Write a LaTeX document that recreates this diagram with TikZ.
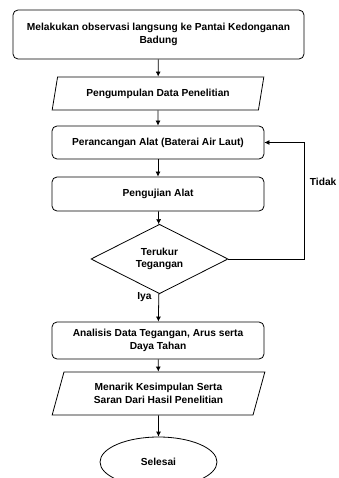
\documentclass[tikz,border=0pt]{standalone}
\usepackage{fontspec}
\setmainfont{Liberation Sans}
\usetikzlibrary{shapes.geometric,arrows.meta}
\begin{document}
\begin{tikzpicture}[x=1pt, y=-1pt, line width=0.8pt,
	font=\fontsize{10.2}{12.5}\selectfont\bfseries,
	proses/.style={draw, rounded corners=5pt, align=center, inner sep=0pt},
	datain/.style={draw, trapezium, trapezium left angle=68, trapezium right angle=112,
		trapezium stretches=true, align=center, inner sep=0pt},
	keputusan/.style={draw, diamond, align=center, inner sep=0pt},
	panah/.style={-{Latex[length=5pt,width=5pt]}}]
	\useasboundingbox (0,0) rectangle (339,478);
	\node[proses, minimum width=291pt, minimum height=49pt] (obs) at (158.5,34.5) {Melakukan observasi langsung ke Pantai Kedonganan\\Badung};
	\node[datain, minimum width=212pt, minimum height=33pt] (data) at (158,93.5) {Pengumpulan Data Penelitian};
	\node[proses, minimum width=212pt, minimum height=33pt] (rancang) at (158,142.5) {Perancangan Alat (Baterai Air Laut)};
	\node[proses, minimum width=212pt, minimum height=34pt] (uji) at (158,194) {Pengujian Alat};
	\node[keputusan, minimum width=137pt, minimum height=66pt] (ukur) at (159.5,259) {Terukur\\Tegangan};
	\node[proses, minimum width=212pt, minimum height=37pt] (analisis) at (158,340.5) {Analisis Data Tegangan, Arus serta\\Daya Tahan};
	\node[datain, minimum width=213pt, minimum height=43pt] (simpul) at (158.5,393.5) {Menarik Kesimpulan Serta\\Saran Dari Hasil Penelitian};
	\node[draw, ellipse, minimum width=117pt, minimum height=50pt, inner sep=0pt] (selesai) at (158.5,462) {Selesai};
	\coordinate (balik) at (304,142.5);
	\draw[panah] (obs) -- (data);
	\draw[panah] (data) -- (rancang);
	\draw[panah] (rancang) -- (uji);
	\draw[panah] (uji) -- (ukur);
	\draw[panah] (ukur) -- (analisis);
	\draw[panah] (analisis) -- (simpul);
	\draw[panah] (simpul) -- (selesai);
	\draw[panah] (ukur.east) -| (balik) -- (rancang.east);
	\node[anchor=west, inner sep=0pt] (tidak) at (309.5,182) {Tidak};
	\node (iya) at (144.5,297) {Iya};
\end{tikzpicture}
\end{document}
